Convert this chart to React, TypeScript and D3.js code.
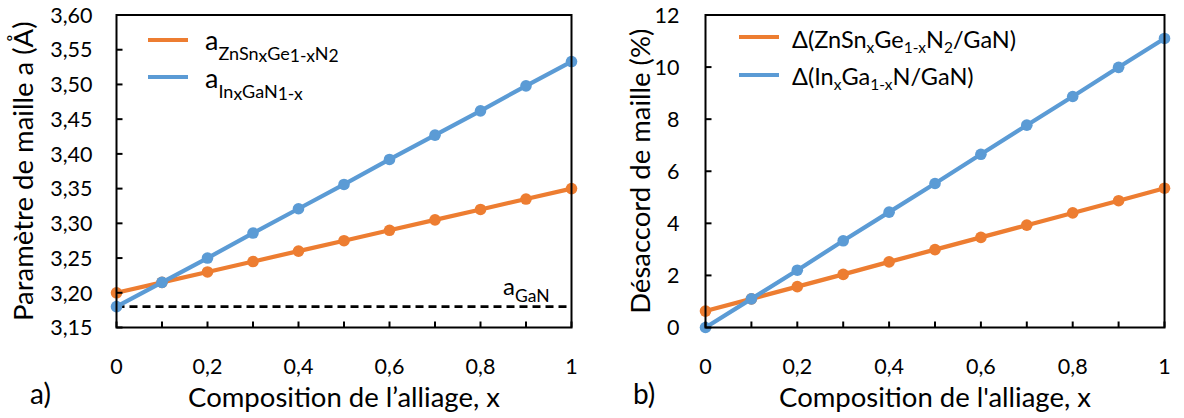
import React from "react";
import * as d3 from "d3";

const xValues = [0, 0.1, 0.2, 0.3, 0.4, 0.5, 0.6, 0.7, 0.8, 0.9, 1];
const aZnSnGeN = [3.2, 3.215, 3.23, 3.245, 3.26, 3.275, 3.29, 3.305, 3.32, 3.335, 3.35];
const aInGaN = [3.18, 3.215, 3.25, 3.286, 3.321, 3.356, 3.392, 3.427, 3.462, 3.498, 3.533];
const dZnSnGeN = [0.63, 1.1, 1.57, 2.04, 2.52, 2.99, 3.46, 3.93, 4.4, 4.87, 5.35];
const dInGaN = [0, 1.1, 2.2, 3.33, 4.43, 5.53, 6.65, 7.77, 8.87, 9.99, 11.1];
const aGaN = 3.18;

const xMajorTicks = [0, 0.2, 0.4, 0.6, 0.8, 1];
const xMinorTicks = [0, 0.1, 0.2, 0.3, 0.4, 0.5, 0.6, 0.7, 0.8, 0.9, 1];
const yTicksLeft = [3.15, 3.2, 3.25, 3.3, 3.35, 3.4, 3.45, 3.5, 3.55, 3.6];
const yTicksRight = [0, 2, 4, 6, 8, 10, 12];

const ORANGE = "#ED7D31";
const BLUE = "#5B9BD5";
const FONT = "Lato, Carlito, Calibri, sans-serif";

const fmtComma = (v: number, digits: number) =>
  digits === 0 ? String(v) : v.toFixed(digits).replace(".", ",");
const fmtX = (v: number) => (v === 0 || v === 1 ? String(v) : v.toFixed(1).replace(".", ","));

type PanelProps = {
  x0: number;
  x1: number;
  yDomain: [number, number];
  yTicks: number[];
  yDigits: number;
  series: { values: number[]; color: string }[];
  children?: React.ReactNode;
  dashed?: number;
  yTitle: string;
  yTitleX: number;
  xTitle: string;
  panelLabel: string;
  panelLabelX: number;
  yLabelGap: number;
};

const TOP = 15;
const BOTTOM = 327.5;

function Panel(p: PanelProps) {
  const xs = d3.scaleLinear().domain([0, 1]).range([p.x0, p.x1]);
  const ys = d3.scaleLinear().domain(p.yDomain).range([BOTTOM, TOP]);
  const line = d3
    .line<number>()
    .x((_, i) => xs(xValues[i]))
    .y((d) => ys(d));
  const tickLen = 6;
  return (
    <g>
      {p.dashed !== undefined && (
        <line
          x1={xs(0)}
          x2={xs(1)}
          y1={ys(p.dashed)}
          y2={ys(p.dashed)}
          stroke="#000"
          strokeWidth={2.8}
          strokeDasharray="8,5"
        />
      )}
      {p.series.map((s, si) => (
        <g key={si}>
          <path d={line(s.values) || ""} fill="none" stroke={s.color} strokeWidth={4.2} strokeLinejoin="round" />
          {s.values.map((v, i) => (
            <circle key={i} cx={xs(xValues[i])} cy={ys(v)} r={5.8} fill={s.color} />
          ))}
        </g>
      ))}
      <rect x={p.x0} y={TOP} width={p.x1 - p.x0} height={BOTTOM - TOP} fill="none" stroke="#000" strokeWidth={2} />
      {xMinorTicks.map((t) => (
        <line key={"xt" + t} x1={xs(t)} x2={xs(t)} y1={BOTTOM} y2={BOTTOM - tickLen} stroke="#000" strokeWidth={2} />
      ))}
      {xMajorTicks.map((t) => (
        <text key={"xl" + t} x={xs(t)} y={374} textAnchor="middle" fontFamily={FONT} fontSize={21.5} fill="#000">
          {fmtX(t)}
        </text>
      ))}
      {p.yTicks.map((t) => (
        <line key={"yt" + t} x1={p.x0} x2={p.x0 + tickLen} y1={ys(t)} y2={ys(t)} stroke="#000" strokeWidth={2} />
      ))}
      {p.yTicks.map((t) => (
        <text
          key={"yl" + t}
          x={p.x0 - p.yLabelGap}
          y={ys(t)}
          dy="0.36em"
          textAnchor="end"
          fontFamily={FONT}
          fontSize={21.5}
          fill="#000"
        >
          {fmtComma(t, p.yDigits)}
        </text>
      ))}
      <text x={(p.x0 + p.x1) / 2} y={407} textAnchor="middle" fontFamily={FONT} fontSize={27.5} fill="#000">
        {p.xTitle}
      </text>
      <text
        transform={`translate(${p.yTitleX},${(TOP + BOTTOM) / 2}) rotate(-90)`}
        textAnchor="middle"
        fontFamily={FONT}
        fontSize={27.5}
        fill="#000"
      >
        {p.yTitle}
      </text>
      <text x={p.panelLabelX} y={404} fontFamily={FONT} fontSize={28} fill="#000">
        {p.panelLabel}
      </text>
      {p.children}
    </g>
  );
}

export default function App() {
  return (
    <div style={{ position: "absolute", left: 0, top: 0 }}>
      <svg width={1184} height={418} viewBox="0 0 1184 418" style={{ display: "block", background: "#fff" }}>
        <Panel
          x0={116.5}
          x1={571.5}
          yDomain={[3.15, 3.6]}
          yTicks={yTicksLeft}
          yDigits={2}
          dashed={aGaN}
          series={[
            { values: aZnSnGeN, color: ORANGE },
            { values: aInGaN, color: BLUE },
          ]}
          yTitle="Paramètre de maille a (Å)"
          yTitleX={33}
          xTitle="Composition de l’alliage, x"
          panelLabel="a)"
          panelLabelX={30}
          yLabelGap={24}
        >
          <line x1={148} x2={188} y1={40} y2={40} stroke={ORANGE} strokeWidth={4.2} />
          <line x1={148} x2={188} y1={77} y2={77} stroke={BLUE} strokeWidth={4.2} />
          <text x={205} y={50} fontFamily={FONT} fontSize={27} fill="#000">
            a
            <tspan fontSize={18} dy={10}>ZnSn</tspan>
            <tspan fontSize={17.5} dy={2}>x</tspan>
            <tspan fontSize={18} dy={-2}>Ge</tspan>
            <tspan fontSize={17.5} dy={2}>1-x</tspan>
            <tspan fontSize={18} dy={-2}>N</tspan>
            <tspan fontSize={17.5} dy={2}>2</tspan>
          </text>
          <text x={205} y={88} fontFamily={FONT} fontSize={27} fill="#000">
            a
            <tspan fontSize={18} dy={10}>In</tspan>
            <tspan fontSize={17.5} dy={2}>x</tspan>
            <tspan fontSize={18} dy={-2}>GaN</tspan>
            <tspan fontSize={17.5} dy={2}>1-x</tspan>
          </text>
          <text x={503} y={295} fontFamily={FONT} fontSize={24} fill="#000">
            a<tspan fontSize={17.5} dy={7}>GaN</tspan>
          </text>
        </Panel>
        <Panel
          x0={705.5}
          x1={1164.5}
          yDomain={[0, 12]}
          yTicks={yTicksRight}
          yDigits={0}
          series={[
            { values: dZnSnGeN, color: ORANGE },
            { values: dInGaN, color: BLUE },
          ]}
          yTitle="Désaccord de maille (%)"
          yTitleX={650}
          xTitle="Composition de l'alliage, x"
          panelLabel="b)"
          panelLabelX={633}
          yLabelGap={26}
        >
          <line x1={739} x2={779} y1={37} y2={37} stroke={ORANGE} strokeWidth={4.2} />
          <line x1={739} x2={779} y1={75} y2={75} stroke={BLUE} strokeWidth={4.2} />
          <text x={792} y={48} fontFamily={FONT} fontSize={23.5} fill="#000">
            Δ(ZnSn
            <tspan fontSize={15.5} dy={5}>x</tspan>
            <tspan dy={-5}>Ge</tspan>
            <tspan fontSize={15.5} dy={5}>1-x</tspan>
            <tspan dy={-5}>N</tspan>
            <tspan fontSize={15.5} dy={5}>2</tspan>
            <tspan dy={-5}>/GaN)</tspan>
          </text>
          <text x={792} y={85} fontFamily={FONT} fontSize={23.5} fill="#000">
            Δ(In
            <tspan fontSize={15.5} dy={5}>x</tspan>
            <tspan dy={-5}>Ga</tspan>
            <tspan fontSize={15.5} dy={5}>1-x</tspan>
            <tspan dy={-5}>N/GaN)</tspan>
          </text>
        </Panel>
      </svg>
    </div>
  );
}
